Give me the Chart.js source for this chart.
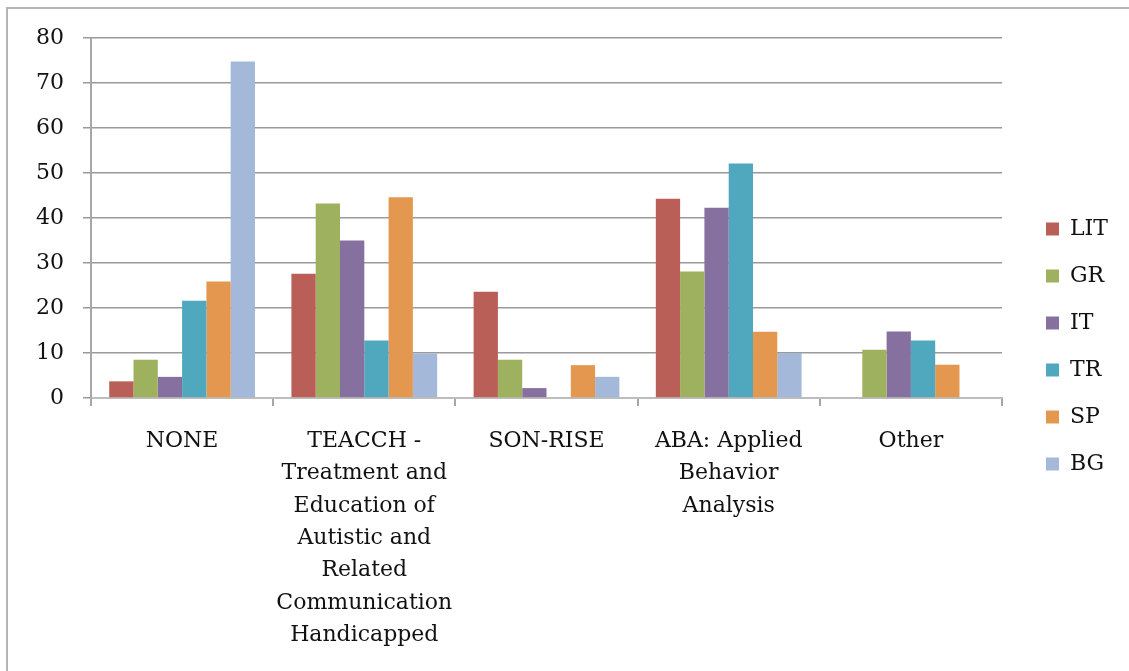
<!DOCTYPE html>
<html>
<head>
<meta charset="utf-8">
<script src="https://cdn.jsdelivr.net/npm/chart.js@4/dist/chart.umd.min.js"></script>
<style>
  html, body { margin: 0; padding: 0; background: #fff; }
  #wrap { width: 1129px; height: 671px; }
</style>
</head>
<body>
<div id="wrap"><canvas id="chart" width="1129" height="671"></canvas></div>
<script>
// categories (multi-line labels as in the original)
const categories = [
  ["NONE"],
  ["TEACCH -", "Treatment and", "Education of", "Autistic and", "Related", "Communication", "Handicapped"],
  ["SON-RISE"],
  ["ABA: Applied", "Behavior", "Analysis"],
  ["Other"]
];

// series values
const LIT = [3.7, 27.6, 23.6, 44.3, 0];
const GR  = [8.5, 43.2, 8.5, 28.1, 10.7];
const IT  = [4.7, 35.0, 2.2, 42.3, 14.8];
const TR  = [21.6, 12.8, 0, 52.1, 12.8];
const SP  = [25.9, 44.6, 7.3, 14.7, 7.4];
const BG  = [74.8, 9.9, 4.7, 10.0, 0];

const yTicks = [0, 10, 20, 30, 40, 50, 60, 70, 80];

const seriesNames = ["LIT", "GR", "IT", "TR", "SP", "BG"];
const seriesData = [LIT, GR, IT, TR, SP, BG];
const colors = ["#ba5f57", "#9db15f", "#8670a0", "#4fa8be", "#e4974f", "#a4b8d9"];

const font = { family: "'DejaVu Serif', serif", size: 22, lineHeight: 1.47 };

// thin frame on top and left like the cropped original
const framePlugin = {
  id: "frame",
  beforeDraw(chart) {
    const ctx = chart.ctx;
    ctx.save();
    ctx.strokeStyle = "#b4b4b4";
    ctx.lineWidth = 2;
    ctx.beginPath();
    ctx.moveTo(7, 671);
    ctx.lineTo(7, 8);
    ctx.lineTo(1135, 8);
    ctx.stroke();
    ctx.restore();
  }
};

// legend gets a fixed width, then is nudged to where it sits in the original
const legendFix = {
  id: "legendFix",
  beforeUpdate(chart) {
    const lg = chart.legend;
    if (lg && !lg._fixed) {
      const fit = lg.fit;
      lg.fit = function () {
        fit.call(this);
        this.width = 127;
      };
      lg._fixed = true;
    }
  },
  afterLayout(chart) {
    const lg = chart.legend;
    if (!lg) return;
    const dx = 1046 - (lg.left + lg.options.labels.padding);
    lg.left += dx;
    lg.right += dx;
    lg.top -= 8;
    lg.bottom -= 8;
  }
};

new Chart(document.getElementById("chart"), {
  type: "bar",
  data: {
    labels: categories,
    datasets: seriesNames.map((name, i) => ({
      label: name,
      data: seriesData[i],
      backgroundColor: colors[i],
      borderWidth: 0,
      categoryPercentage: 0.8,
      barPercentage: 1.0
    }))
  },
  options: {
    responsive: false,
    animation: false,
    layout: { padding: { left: 8, top: 38, right: 0, bottom: 0 } },
    plugins: {
      tooltip: { enabled: false },
      legend: {
        position: "right",
        labels: {
          font: font,
          color: "#111",
          boxWidth: 13,
          boxHeight: 13,
          padding: 25
        }
      }
    },
    scales: {
      x: {
        grid: {
          offset: true,
          drawOnChartArea: false,
          drawTicks: true,
          tickLength: 8,
          color: "#a6a6a6",
          lineWidth: 2
        },
        border: { color: "#bdbdbd", width: 2 },
        ticks: { font: font, color: "#111", padding: 19, maxRotation: 0, autoSkip: false },
        afterFit(scale) { scale.height = 273; }
      },
      y: {
        min: 0,
        max: 80,
        afterBuildTicks(scale) { scale.ticks = yTicks.map(v => ({ value: v })); },
        grid: { color: "#9a9a9a", lineWidth: 1.5, tickLength: 8 },
        border: { color: "#a6a6a6", width: 2 },
        ticks: { font: font, color: "#111", padding: 19 },
        afterFit(scale) { scale.width = 83; }
      }
    }
  },
  plugins: [framePlugin, legendFix]
});
</script>
</body>
</html>
